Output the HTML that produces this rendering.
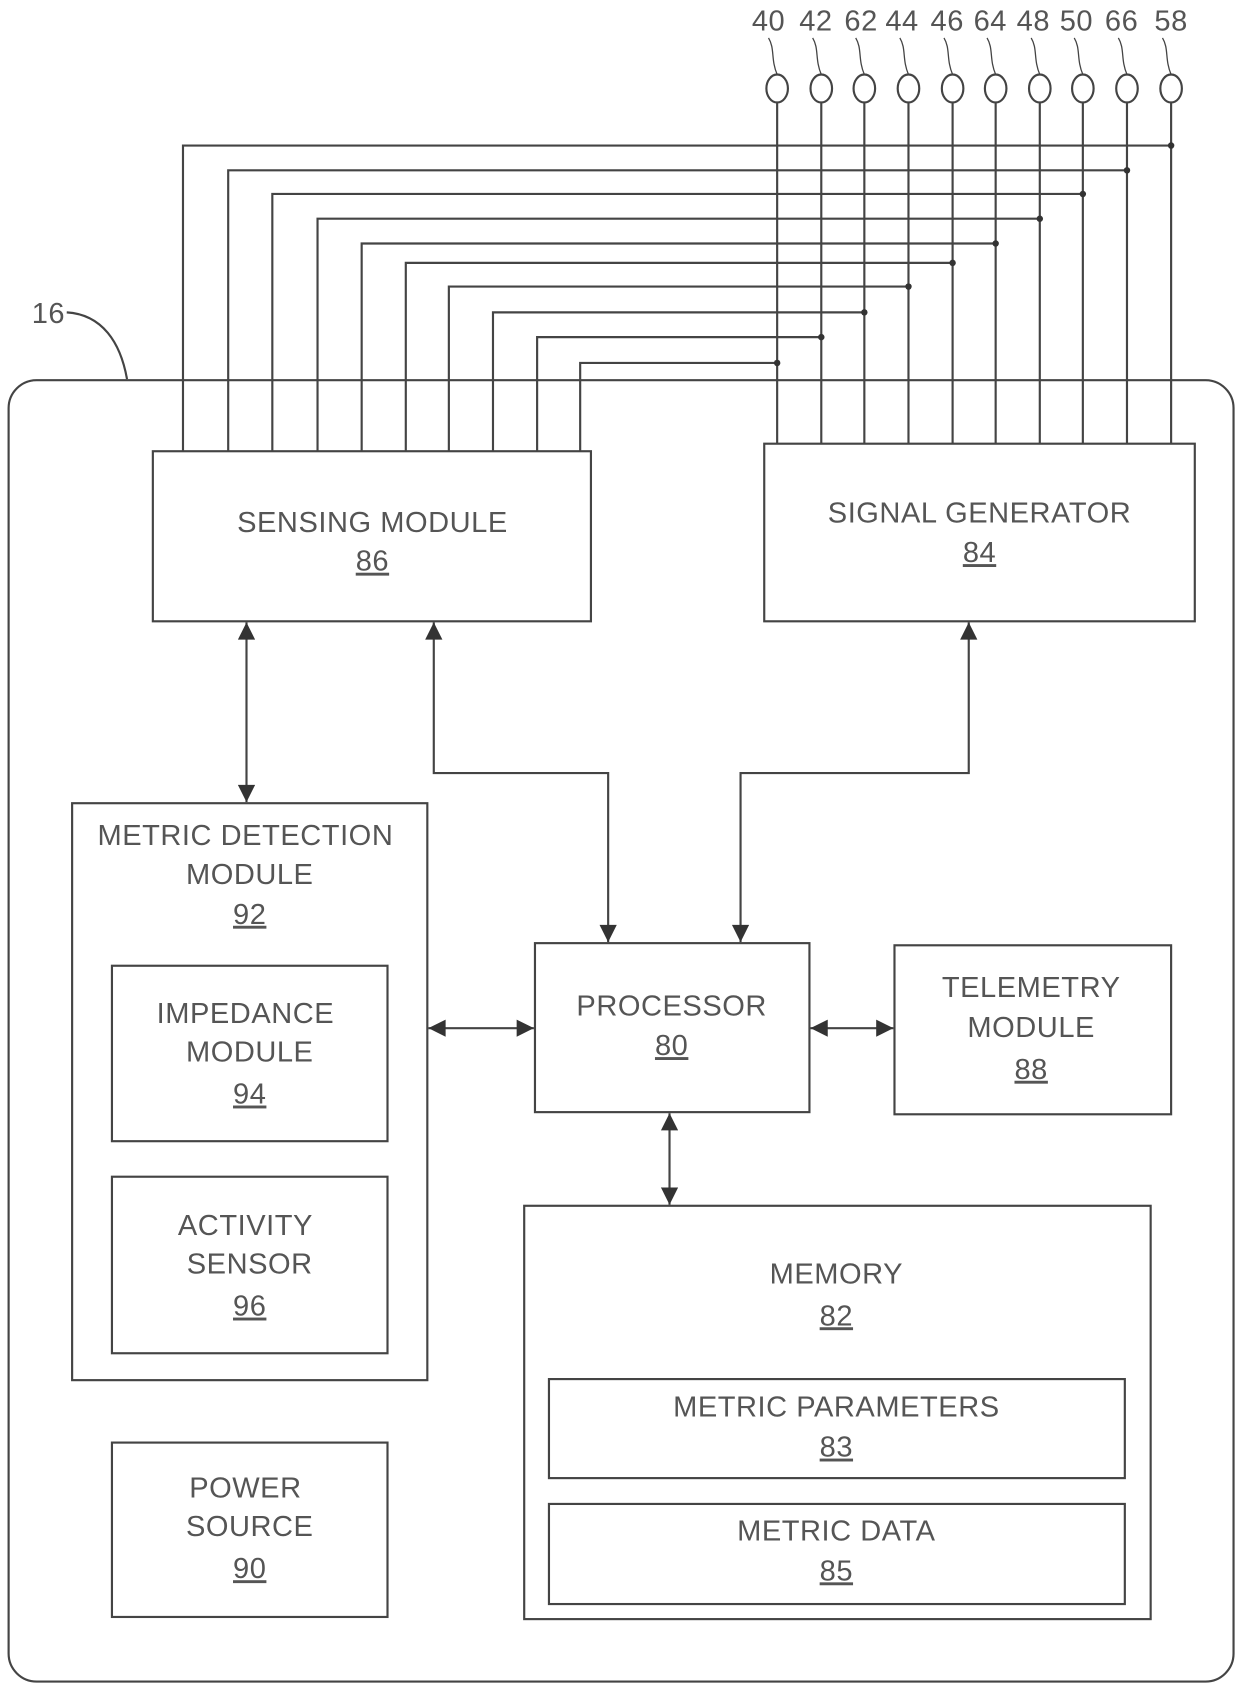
<!DOCTYPE html>
<html><head><meta charset="utf-8"><style>
html,body{margin:0;padding:0;background:#fff;}
svg{display:block}
text{font-family:"Liberation Sans",sans-serif;fill:#555;font-size:27px;text-anchor:middle;letter-spacing:0.5px}
.n{text-decoration:underline}
</style></head><body>
<svg width="1240" height="1685" viewBox="0 0 1152 1565" xmlns="http://www.w3.org/2000/svg">
<defs>
<marker id="a" viewBox="0 0 10 10" refX="10" refY="5" markerWidth="18" markerHeight="16" markerUnits="userSpaceOnUse" orient="auto-start-reverse"><path d="M0,0 L10,5 L0,10 z" fill="#333"/></marker>
</defs>
<g stroke="#444" stroke-width="2" fill="none">
<rect x="8" y="353" width="1138" height="1209" rx="26"/>
<path d="M118,352 C112,318 95,292 62,290"/>
<g>
<ellipse cx="722" cy="82" rx="10" ry="13"/><ellipse cx="763" cy="82" rx="10" ry="13"/><ellipse cx="803" cy="82" rx="10" ry="13"/><ellipse cx="844" cy="82" rx="10" ry="13"/><ellipse cx="885" cy="82" rx="10" ry="13"/><ellipse cx="925" cy="82" rx="10" ry="13"/><ellipse cx="966" cy="82" rx="10" ry="13"/><ellipse cx="1006" cy="82" rx="10" ry="13"/><ellipse cx="1047" cy="82" rx="10" ry="13"/><ellipse cx="1088" cy="82" rx="10" ry="13"/>
</g>
<g stroke-width="1.2">
<path d="M722,69 C716,55 720,45 714,35"/><path d="M763,69 C757,55 761,45 755,35"/><path d="M803,69 C797,55 801,45 795,35"/><path d="M844,69 C838,55 842,45 836,35"/><path d="M885,69 C879,55 883,45 877,35"/><path d="M925,69 C919,55 923,45 917,35"/><path d="M966,69 C960,55 964,45 958,35"/><path d="M1006,69 C1000,55 1004,45 998,35"/><path d="M1047,69 C1041,55 1045,45 1039,35"/><path d="M1088,69 C1082,55 1086,45 1080,35"/>
</g>
<path d="M722,95V412M763,95V412M803,95V412M844,95V412M885,95V412M925,95V412M966,95V412M1006,95V412M1047,95V412M1088,95V412"/>
<path d="M170,419V135H1088"/>
<path d="M212,419V158H1047"/>
<path d="M253,419V180H1006"/>
<path d="M295,419V203H966"/>
<path d="M336,419V226H925"/>
<path d="M377,419V244H885"/>
<path d="M417,419V266H844"/>
<path d="M458,419V290H803"/>
<path d="M499,419V313H763"/>
<path d="M539,419V337H722"/>
<rect x="142" y="419" width="407" height="158"/>
<rect x="710" y="412" width="400" height="165"/>
<rect x="67" y="746" width="330" height="536"/>
<rect x="104" y="897" width="256" height="163"/>
<rect x="104" y="1093" width="256" height="164"/>
<rect x="104" y="1340" width="256" height="162"/>
<rect x="497" y="876" width="255" height="157"/>
<rect x="831" y="878" width="257" height="157"/>
<rect x="487" y="1120" width="582" height="384"/>
<rect x="510" y="1281" width="535" height="92"/>
<rect x="510" y="1397" width="535" height="93"/>
<path d="M229,578V745" marker-start="url(#a)" marker-end="url(#a)"/>
<path d="M403,578V718H565V875" marker-start="url(#a)" marker-end="url(#a)"/>
<path d="M900,578V718H688V875" marker-start="url(#a)" marker-end="url(#a)"/>
<path d="M398,955H496" marker-start="url(#a)" marker-end="url(#a)"/>
<path d="M753,955H830" marker-start="url(#a)" marker-end="url(#a)"/>
<path d="M622,1034V1119" marker-start="url(#a)" marker-end="url(#a)"/>
</g>
<g fill="#333">
<circle cx="1088" cy="135" r="3"/><circle cx="1047" cy="158" r="3"/><circle cx="1006" cy="180" r="3"/><circle cx="966" cy="203" r="3"/><circle cx="925" cy="226" r="3"/><circle cx="885" cy="244" r="3"/><circle cx="844" cy="266" r="3"/><circle cx="803" cy="290" r="3"/><circle cx="763" cy="313" r="3"/><circle cx="722" cy="337" r="3"/>
</g>
<g style="font-size:25px">
<text x="714" y="28">40</text><text x="758" y="28">42</text><text x="800" y="28">62</text><text x="838" y="28">44</text><text x="880" y="28">46</text><text x="920" y="28">64</text><text x="960" y="28">48</text><text x="1000" y="28">50</text><text x="1042" y="28">66</text><text x="1088" y="28">58</text>
<text x="45" y="300">16</text>
</g>
<text x="346" y="494">SENSING MODULE</text><text x="346" y="530" class="n">86</text>
<text x="910" y="485">SIGNAL GENERATOR</text><text x="910" y="522" class="n">84</text>
<text x="228" y="785">METRIC DETECTION</text><text x="232" y="821">MODULE</text><text x="232" y="858" class="n">92</text>
<text x="228" y="950">IMPEDANCE</text><text x="232" y="986">MODULE</text><text x="232" y="1025" class="n">94</text>
<text x="228" y="1147">ACTIVITY</text><text x="232" y="1183">SENSOR</text><text x="232" y="1222" class="n">96</text>
<text x="228" y="1391">POWER</text><text x="232" y="1427">SOURCE</text><text x="232" y="1466" class="n">90</text>
<text x="624" y="943">PROCESSOR</text><text x="624" y="980" class="n">80</text>
<text x="958" y="926">TELEMETRY</text><text x="958" y="963">MODULE</text><text x="958" y="1002" class="n">88</text>
<text x="777" y="1192">MEMORY</text><text x="777" y="1231" class="n">82</text>
<text x="777" y="1316">METRIC PARAMETERS</text><text x="777" y="1353" class="n">83</text>
<text x="777" y="1431">METRIC DATA</text><text x="777" y="1468" class="n">85</text>
</svg>
</body></html>
